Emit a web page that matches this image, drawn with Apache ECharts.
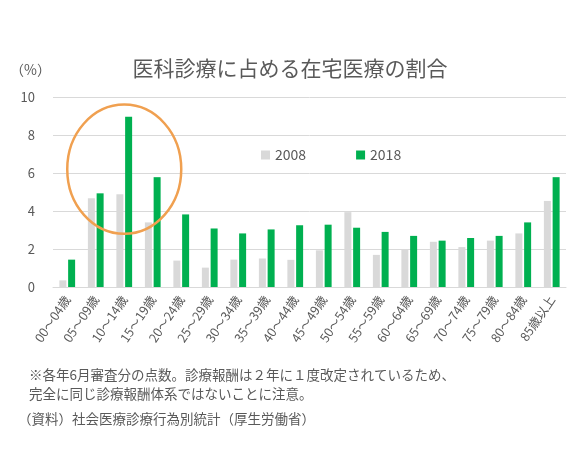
<!DOCTYPE html>
<html><head><meta charset="utf-8">
<script src="https://cdn.jsdelivr.net/npm/echarts@6/dist/echarts.min.js"></script>
<style>html,body{margin:0;padding:0;background:#fff}#c{width:580px;height:465px}</style>
</head><body><div id="c"></div>
<script>
const categories = ['00～04歳','05～09歳','10～14歳','15～19歳','20～24歳','25～29歳','30～34歳','35～39歳','40～44歳','45～49歳','50～54歳','55～59歳','60～64歳','65～69歳','70～74歳','75～79歳','80～84歳','85歳以上'];
const values2008 = [0.35,4.67,4.88,3.4,1.39,1.02,1.44,1.5,1.43,1.93,3.94,1.69,2.0,2.38,2.1,2.44,2.82,4.53];
const values2018 = [1.44,4.93,8.96,5.78,3.82,3.08,2.82,3.03,3.25,3.28,3.12,2.9,2.69,2.44,2.58,2.69,3.4,5.78];
const seriesNames = ['2008','2018'];
const yTicks = {min:0, max:10, interval:2};
const highlight = {category:2, value:6.2, radiusCats:2, radiusValue:3.4};

const FONT = '"Noto Sans CJK JP", "Noto Sans", sans-serif';
const noteText = '※各年6月審査分の点数。診療報酬は２年に１度改定されているため、\n完全に同じ診療報酬体系ではないことに注意。';
const sourceText = '（資料）社会医療診療行為別統計（厚生労働省）';
const chart = echarts.init(document.getElementById('c'));
chart.setOption({
  animation:false,
  textStyle:{fontFamily:FONT},
  title:{text:'医科診療に占める在宅医療の割合', left:'center', top:53, textStyle:{fontSize:21, fontWeight:'normal', color:'#595959', fontFamily:FONT}},
  legend:{data:seriesNames, left:256, top:143, itemWidth:9, itemHeight:9, itemGap:50, icon:'rect', textStyle:{fontSize:14, color:'#595959', fontFamily:FONT}},
  grid:{left:53, right:14, top:97, bottom:178},
  xAxis:{type:'category', data:categories,
    axisLine:{lineStyle:{color:'#d9d9d9'}}, axisTick:{show:false},
    axisLabel:{rotate:56, fontSize:12.5, color:'#595959', margin:10, interval:0, fontFamily:FONT}},
  yAxis:{type:'value', min:yTicks.min, max:yTicks.max, interval:yTicks.interval,
    name:'（%）', nameLocation:'end', nameGap:20, nameTextStyle:{fontSize:14, color:'#595959', align:'right', padding:[0,2,0,0]},
    axisLine:{show:false}, axisTick:{show:false},
    splitLine:{lineStyle:{color:'#d9d9d9'}},
    axisLabel:{fontSize:13, color:'#595959', margin:18, fontFamily:FONT}},
  series:[
    {name:seriesNames[0], type:'bar', data:values2008, barWidth:7, barGap:'25%', itemStyle:{color:'#d9d9d9'}},
    {name:seriesNames[1], type:'bar', data:values2018, barWidth:7, itemStyle:{color:'#00b050'}}
  ]
});
const c = chart.convertToPixel({gridIndex:0}, [highlight.category, highlight.value]);
const a = chart.convertToPixel({gridIndex:0}, [highlight.category + highlight.radiusCats, highlight.value + highlight.radiusValue]);
chart.setOption({graphic:[
  {type:'text', left:29, top:365, style:{text:noteText, fill:'#595959', font:'13.5px '+FONT, lineHeight:19}},
  {type:'text', left:18, top:412, style:{text:sourceText, fill:'#595959', font:'13.5px '+FONT}},
  {type:'ellipse', shape:{cx:c[0], cy:c[1], rx:Math.abs(a[0]-c[0]), ry:Math.abs(c[1]-a[1])}, style:{fill:'none', stroke:'#f0a050', lineWidth:2.5}, z:100}
]});
</script></body></html>
